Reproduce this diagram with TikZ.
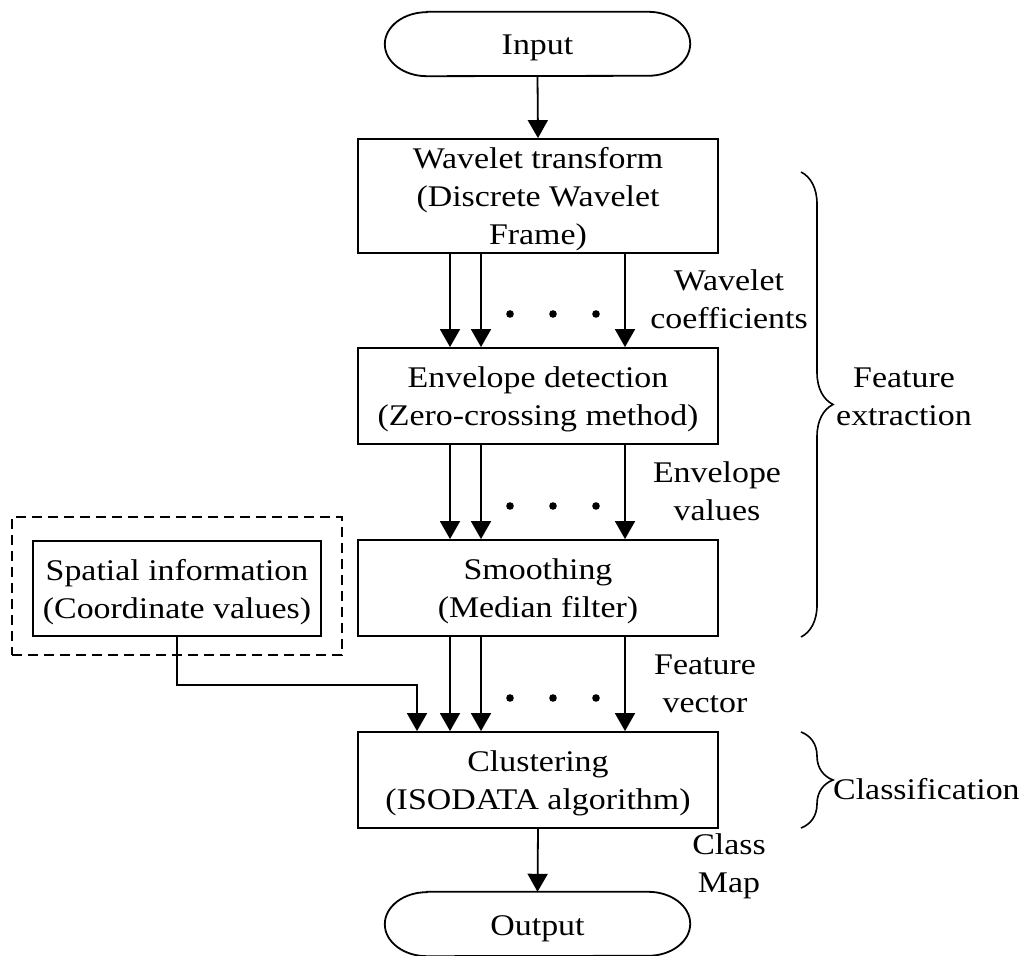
\documentclass[tikz,border=0pt]{standalone}
\usepackage{fontspec}
\setmainfont{Liberation Serif}[FakeStretch=1.13]
\usetikzlibrary{arrows.meta,decorations.pathreplacing}
% line strut: 30pt above, 8pt below the baseline (= baselineskip 38pt)
\newcommand\Ls{\rule[-8pt]{0pt}{38pt}}
\begin{document}
\begin{tikzpicture}[x=1pt,y=1pt,
  every node/.style={font=\fontsize{30}{38}\selectfont, inner sep=0pt, align=center},
  proc/.style={draw, line width=1.8pt, minimum width=360pt, minimum height=96pt},
  term/.style={minimum width=305pt, minimum height=64pt},
  flow/.style={line width=1.8pt, -{Triangle[length=18pt,width=20pt]}},
  grp/.style={draw, dash pattern=on 10pt off 6pt, line width=1.8pt},
  brc/.style={decorate, decoration={brace, amplitude=32pt}, line width=1.6pt},
  dot/.style={fill=black},
]
\useasboundingbox (0,0) rectangle (1027,955);

% main chain
\node[term] (input) at (537.5,911) {\Ls Input};
\node[proc, minimum height=112pt] (wave) at (538,759)
  {\Ls Wavelet transform\\\Ls (Discrete Wavelet\\\Ls Frame)};
\node[proc] (env) at (538,559) {\Ls Envelope detection\\\Ls (Zero-crossing method)};
\node[proc] (smooth) at (538,367) {\Ls Smoothing\\\Ls (Median filter)};
\node[proc] (clust) at (538,175) {\Ls Clustering\\\Ls (ISODATA algorithm)};
\node[term] (output) at (537.5,31) {\Ls Output};

% spatial information input
\node[grp, minimum width=330pt, minimum height=138pt] (group) at (177,369) {};
\node[proc, minimum width=288pt, minimum height=95pt] (spatial) at (177,366.5)
  {\Ls Spatial information\\\Ls (Coordinate values)};

% terminal outlines (elliptic ends)
\foreach \t in {input,output}{
  \draw[line width=1.8pt] ([xshift=42pt]\t.north west) -- ([xshift=-42pt]\t.north east)
    arc[start angle=90, end angle=-90, x radius=42pt, y radius=32pt]
    -- ([xshift=42pt]\t.south west)
    arc[start angle=270, end angle=90, x radius=42pt, y radius=32pt] -- cycle;
}

% connectors
\draw[flow] (input.south) -- (wave.north);
\foreach \dx in {-88,-57,87}{
  \draw[flow] ([xshift=\dx pt]wave.south) -- ([xshift=\dx pt]env.north);
  \draw[flow] ([xshift=\dx pt]env.south) -- ([xshift=\dx pt]smooth.north);
  \draw[flow] ([xshift=\dx pt]smooth.south) -- ([xshift=\dx pt]clust.north);
}
\draw[flow] (spatial.south) -- ++(0,-48) -| ([xshift=-121pt]clust.north);
\draw[flow] (clust.south) -- (output.north);

% ellipsis dots between the parallel channels
\foreach \y in {641,449,257}{
  \foreach \x in {510,553,596}{
    \fill[dot] (\x,\y) circle[radius=3.8pt];
  }
}

% connector labels
\node (lwc) at (729,656) {\Ls Wavelet\\\Ls coefficients};
\node (lev) at (717,464.5) {\Ls Envelope\\\Ls values};
\node (lfv) at (705,272.5) {\Ls Feature\\\Ls vector};
\node (lcm) at (729,92) {\Ls Class\\\Ls Map};

% stage braces
\draw[brc] (801,783) -- (801,318);
\node (lfe) at (904,559.5) {\Ls Feature\\\Ls extraction};
\draw[brc] (801,223) -- (801,127);
\node[anchor=west] (lcl) at (833,166) {\Ls Classification};
\end{tikzpicture}
\end{document}
